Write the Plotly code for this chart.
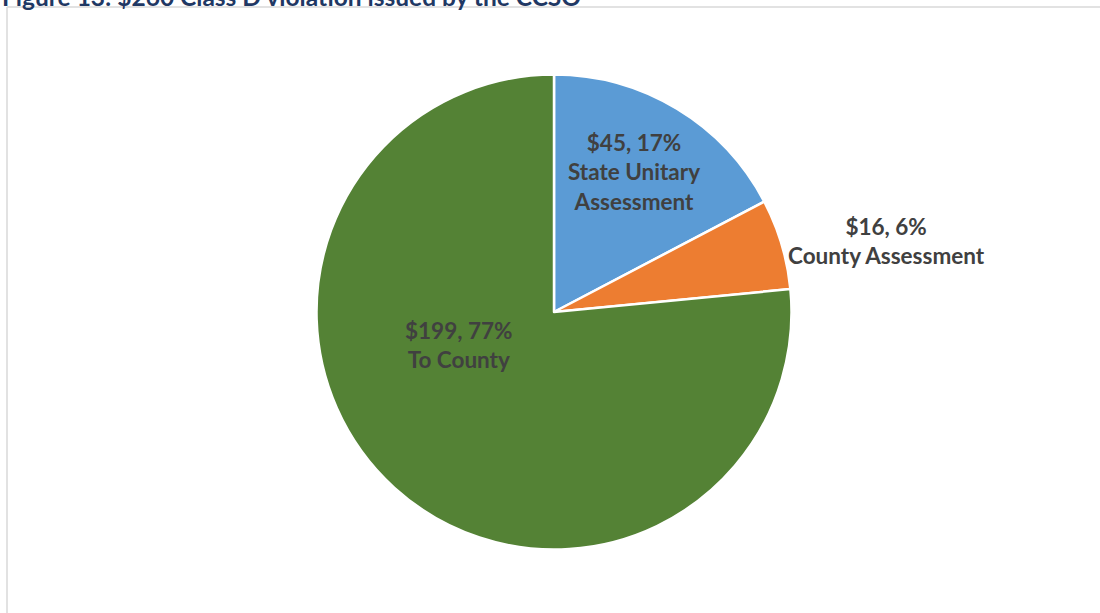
import plotly.graph_objects as go

title = "Figure 13: $260 Class D violation issued by the CCSO"
categories = ["State Unitary Assessment", "County Assessment", "To County"]
wrapped = ["State Unitary<br>Assessment", "County Assessment", "To County"]
values = [45, 16, 199]
colors = ["#5B9BD5", "#ED7D31", "#548235"]
# label centres (px), as placed in the original chart
label_px = [(634, 172), (886, 241), (458, 345)]

W, H = 1100, 613
L, T = 7, 7                      # border offset (px)
PW, PH = W - L, H - T
cx, cy, r = 554, 312, 237.5       # pie centre / radius in px

total = sum(values)
FONT = dict(family="Lato", size=22.5, color="#404040", weight="bold")

fig = go.Figure(go.Pie(
    labels=categories,
    values=values,
    sort=False,
    direction="clockwise",
    rotation=0,
    marker=dict(colors=colors, line=dict(color="white", width=2.5)),
    textinfo="none",
    showlegend=False,
    hoverinfo="label+value+percent",
    automargin=False,
    domain=dict(x=[(2 * cx - W - L) / PW, 1],
                y=[1 - (cy + r - T) / PH, 1 - (cy - r - T) / PH]),
))

annotations = []
for v, lab, (px, py) in zip(values, wrapped, label_px):
    annotations.append(dict(
        text=f"${v}, {round(100 * v / total)}%<br>{lab}",
        xref="paper", yref="paper",
        x=(px - L) / PW, y=1 - (py - T) / PH,
        xanchor="center", yanchor="middle", showarrow=False, font=FONT))

annotations.append(dict(
    text="<b>" + title + "</b>", xref="paper", yref="paper",
    x=-L / PW, y=1 + (T + 3) / PH, xanchor="left", yanchor="middle",
    showarrow=False, font=dict(family="Lato", size=24.5, color="#1F3864")))

fig.update_layout(
    width=W, height=H, autosize=False,
    margin=dict(l=L, r=0, t=T, b=0, pad=0),
    paper_bgcolor="white",
    plot_bgcolor="white",
    shapes=[
        dict(type="line", xref="paper", yref="paper", x0=0, x1=0, y0=0, y1=1,
             line=dict(color="#D9D9D9", width=1.5)),
        dict(type="line", xref="paper", yref="paper", x0=0, x1=1, y0=1, y1=1,
             line=dict(color="#D9D9D9", width=1.5)),
    ],
    annotations=annotations,
)

fig.write_html("out.html")
